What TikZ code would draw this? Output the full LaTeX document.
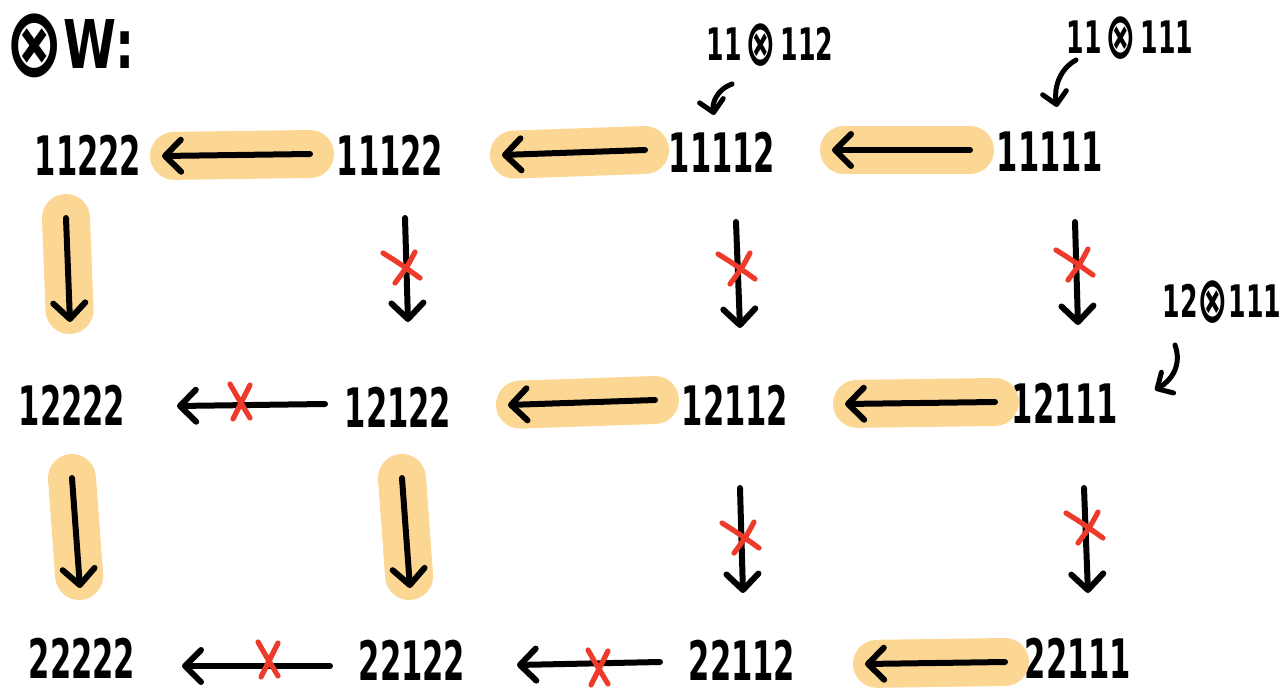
\documentclass[tikz,border=0pt]{standalone}
\usepackage{fontspec}
\usepackage{graphicx}
\setmainfont{DejaVu Sans}
\usetikzlibrary{arrows.meta}
\definecolor{hlc}{HTML}{FCD794}
\definecolor{xred}{HTML}{EE3A2A}
\newcommand\stlbl[1]{\scalebox{0.9}[1.6]{#1}}
\newcommand\bigot{\raisebox{-0.12em}{\scalebox{1.45}{⊗}}}
\begin{document}
\begin{tikzpicture}[x=0.5pt,y=-0.5pt,
  lbl/.style={inner sep=0pt, font=\bfseries\fontsize{17}{17}\selectfont},
  note/.style={inner sep=0pt, font=\bfseries\fontsize{14}{14}\selectfont},
  arr/.style={line width=3pt, line cap=round, -{Straight Barb[length=8pt,width=16pt,line cap=round,line join=round]}},
  thin/.style={line width=2.5pt, line cap=round, -{Straight Barb[length=6pt,width=12pt,line cap=round,line join=round]}},
  hl/.style={line width=24pt, line cap=round, hlc, shorten >=6pt},
  redxh/.pic={\draw[xred, line width=2.6pt, line cap=round] (-10,-18) .. controls (-2,-4) .. (10,16) (10,-17) .. controls (2,0) .. (-7,17);},
  redxv/.pic={\draw[xred, line width=2.6pt, line cap=round] (-20,-12) .. controls (-4,-2) .. (17,13) (12,-13) .. controls (4,2) .. (-8,18);}
]
\useasboundingbox (0,0) rectangle (1286,691);

% title and notes
\node[inner sep=0pt, font=\bfseries\fontsize{24}{24}\selectfont] (title) at (70,46) {\scalebox{1}[1.4]{\bigot{}W:}};
\node[note] (na) at (770,45) {\stlbl{11\,\bigot\,112}};
\node[note] (nb) at (1130,38) {\stlbl{11\,\bigot\,111}};
\node[note] (nc) at (1222,302) {\stlbl{12\bigot111}};

% states
\node[lbl] (s11222) at (88,155) {\stlbl{11222}};
\node[lbl] (s11122) at (390,155) {\stlbl{11122}};
\node[lbl] (s11112) at (722,152) {\stlbl{11112}};
\node[lbl] (s11111) at (1050,152) {\stlbl{11111}};
\node[lbl] (s12222) at (72,405) {\stlbl{12222}};
\node[lbl] (s12122) at (398,407) {\stlbl{12122}};
\node[lbl] (s12112) at (735,405) {\stlbl{12112}};
\node[lbl] (s12111) at (1065,403) {\stlbl{12111}};
\node[lbl] (s22222) at (82,658) {\stlbl{22222}};
\node[lbl] (s22122) at (412,660) {\stlbl{22122}};
\node[lbl] (s22112) at (742,660) {\stlbl{22112}};
\node[lbl] (s22111) at (1078,658) {\stlbl{22111}};

% arrow end points
\coordinate (h1a) at (310,154); \coordinate (h1b) at (162,156);
\coordinate (h2a) at (645,150); \coordinate (h2b) at (502,155);
\coordinate (h3a) at (970,150); \coordinate (h3b) at (832,150);
\coordinate (h4a) at (325,404); \coordinate (h4b) at (177,406);
\coordinate (h5a) at (655,400); \coordinate (h5b) at (508,405);
\coordinate (h6a) at (995,402); \coordinate (h6b) at (845,404);
\coordinate (h7a) at (330,666); \coordinate (h7b) at (182,666);
\coordinate (h8a) at (660,662); \coordinate (h8b) at (517,665);
\coordinate (h9a) at (1005,662); \coordinate (h9b) at (865,664);
\coordinate (v1a) at (66,218); \coordinate (v1b) at (70,322);
\coordinate (v2a) at (405,218); \coordinate (v2b) at (408,322);
\coordinate (v3a) at (736,222); \coordinate (v3b) at (740,328);
\coordinate (v4a) at (1075,222); \coordinate (v4b) at (1078,325);
\coordinate (v5a) at (72,478); \coordinate (v5b) at (80,588);
\coordinate (v6a) at (402,478); \coordinate (v6b) at (410,588);
\coordinate (v7a) at (740,488); \coordinate (v7b) at (743,593);
\coordinate (v8a) at (1084,488); \coordinate (v8b) at (1088,593);

% highlights
\foreach \p in {h1,h2,h3,h5,h6,h9,v1,v5,v6}{
  \draw[hl] (\p a) -- (\p b);
}

% arrows
\foreach \p in {h1,h2,h3,h4,h5,h6,h7,h8,h9,v1,v2,v3,v4,v5,v6,v7,v8}{
  \draw[arr] (\p a) -- (\p b);
}

% crosses
\pic at (240,402) {redxh};
\pic at (268,660) {redxh};
\pic at (598,668) {redxh};
\pic at (403,265) {redxv};
\pic at (738,266) {redxv};
\pic at (742,535) {redxv};
\pic at (1076,262) {redxv};
\pic at (1086,525) {redxv};

% note pointers
\coordinate (pa1) at (732,84); \coordinate (pa2) at (714,115);
\coordinate (pb1) at (1076,60); \coordinate (pb2) at (1057,107);
\coordinate (pc1) at (1175,345); \coordinate (pc2) at (1155,390);
\draw[thin] (pa1) .. controls (716,90) and (712,104) .. (pa2);
\draw[thin] (pb1) .. controls (1058,70) and (1054,90) .. (pb2);
\draw[thin] (pc1) .. controls (1182,365) and (1172,380) .. (pc2);
\end{tikzpicture}
\end{document}
